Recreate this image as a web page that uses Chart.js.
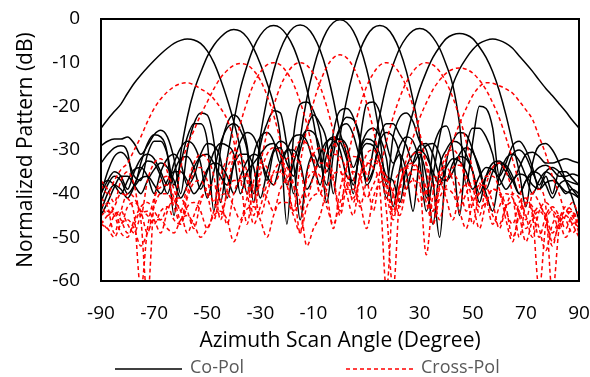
<!DOCTYPE html>
<html lang="en">
<head>
<meta charset="UTF-8" />
<title>Azimuth Scan Pattern</title>
<script src="https://cdn.jsdelivr.net/npm/chart.js"></script>
<style>
  html, body { margin: 0; padding: 0; background: #fff; }
  .container { width: 590px; height: 377px; }
</style>
</head>
<body>
<div class="container"><canvas id="myChart" width="590" height="377"></canvas></div>
<script>
// scan angle grid (deg), shared by every curve
var angles = [-90, -87.5, -85, -82.5, -80, -77.5, -75, -72.5, -70, -67.5,
  -65, -62.5, -60, -57.5, -55, -52.5, -50, -47.5, -45, -42.5,
  -40, -37.5, -35, -32.5, -30, -27.5, -25, -22.5, -20, -17.5,
  -15, -12.5, -10, -7.5, -5, -2.5, 0, 2.5, 5, 7.5,
  10, 12.5, 15, 17.5, 20, 22.5, 25, 27.5, 30, 32.5,
  35, 37.5, 40, 42.5, 45, 47.5, 50, 52.5, 55, 57.5,
  60, 62.5, 65, 67.5, 70, 72.5, 75, 77.5, 80, 82.5,
  85, 87.5, 90];

var xTickValues = [-90, -70, -50, -30, -10, 10, 30, 50, 70, 90];
var yTickValues = [0, -10, -20, -30, -40, -50, -60];
var legendLabels = ["Co-Pol", "Cross-Pol"];

// co-pol beams (dB)
var coBeam1 = [-25.0, -23.0, -21.2, -19.5, -17.0, -14.7, -12.8, -11.1, -9.5, -8.0,
  -6.7, -5.6, -4.9, -4.6, -4.8, -5.6, -7.3, -10.0, -13.8, -18.3,
  -23.5, -30, -40, -31, -27, -26, -28, -33, -30, -27,
  -26.5, -28, -33, -38, -31, -28, -27.5, -29, -34, -30,
  -27.5, -28, -31, -36, -37, -42, -34, -31, -30, -31.5,
  -35, -38, -34, -32, -32.5, -35, -39, -36, -34, -34.5,
  -36.5, -39, -37, -35.5, -36, -38, -39, -37.5, -37, -38,
  -39.5, -40, -41];
var coBeam2 = [-33, -31, -29.5, -29, -30.5, -38, -33, -28.5, -26.5, -27,
  -31, -45, -31, -22.5, -16.5, -12.3, -8.6, -6.0, -4.2, -2.9,
  -2.4, -2.8, -4.2, -6.8, -10.3, -14.6, -19.5, -27, -47, -27,
  -19.5, -19, -21, -26, -35, -29, -25, -24, -26.5, -32,
  -37, -34.5, -28, -26, -27, -31, -39, -33, -29, -28.5,
  -31, -36, -37, -33, -31.5, -32, -35, -40, -36, -34,
  -33, -35, -37, -34, -31, -30.5, -31.5, -33, -33, -32.5,
  -32, -32.5, -33];
var coBeam3 = [-29, -28, -27.5, -27.5, -27, -28.5, -31, -29, -26.5, -25.5,
  -27, -32, -40, -30, -24, -21.5, -22, -28, -42, -32,
  -23.5, -16, -10.7, -6.5, -3.7, -2.0, -1.5, -2.0, -3.7, -6.5,
  -10.7, -16, -23.5, -32, -38, -26, -21, -20.5, -22.5, -28,
  -38, -35, -27, -24, -24, -26.5, -29, -33, -31, -36,
  -47, -34, -30, -28, -28.5, -31, -35, -42, -36, -33,
  -32.5, -34, -37, -40, -37, -35.5, -34, -33.5, -34.5, -36,
  -36, -35.5, -36];
var coBeam4 = [-40, -35, -31.5, -30.5, -32, -36, -37, -31, -28, -28,
  -31, -38, -33, -27, -24, -24, -28, -44, -30, -24,
  -22, -23.5, -29, -40, -27, -18.4, -11.9, -7.1, -3.85, -1.95,
  -1.4, -1.95, -3.85, -7.1, -11.9, -18.4, -26, -31, -40, -28,
  -19.5, -19, -21.5, -28.5, -33, -31, -35, -44, -32, -29,
  -28.5, -31, -37, -35, -31, -29.5, -30.5, -34, -39, -35,
  -33, -33.5, -36, -40, -37, -35, -35.5, -38, -41, -38,
  -37, -37.5, -38];
var coBeam5 = [-40, -37, -35, -36, -39, -35, -32, -31, -32, -35,
  -38, -33, -29.5, -28, -29, -33, -41, -35, -28.5, -25,
  -24, -25.5, -30, -42, -29, -24, -21, -21.5, -29, -40,
  -27.5, -18.2, -11.4, -6.3, -2.8, -0.8, -0.2, -0.8, -2.8, -6.3,
  -11.4, -18.2, -27, -38, -27, -22.5, -21.5, -23.5, -28, -30,
  -37, -50, -33, -28, -26, -26.5, -30, -35, -40, -44,
  -36, -32, -31, -32.5, -36, -40, -37, -35, -36, -38,
  -40, -39, -40];
var coBeam6 = [-38, -37, -38, -40, -37, -34.5, -34, -36, -40, -35,
  -32, -31, -33, -38, -36, -31, -28.5, -29, -32, -41,
  -33, -28, -26, -27, -31, -37, -30.5, -29.5, -33, -36,
  -30, -25, -22, -24, -28, -40, -27, -18.5, -12, -7.2,
  -3.95, -2.05, -1.5, -2.05, -3.95, -7.2, -12, -18.5, -27, -41,
  -30, -25.5, -24.5, -30, -45, -30, -25, -25, -27, -31,
  -38, -35, -31, -30, -31.5, -35, -38, -35, -34, -35,
  -37, -39, -41];
var coBeam7 = [-42, -38, -36, -37, -40, -38, -34.5, -32.5, -33, -36,
  -40, -35, -32, -31.5, -34, -39, -35, -30.5, -28.5, -29,
  -31, -40, -35, -33, -31, -29, -28.5, -31, -38, -33,
  -28, -25.5, -26, -30, -42, -31, -25, -22.5, -23, -27,
  -37, -30, -22, -15.2, -10.5, -6.7, -4.2, -2.65, -2.2, -2.65,
  -4.2, -6.7, -10.5, -15.2, -24, -38, -28, -20, -20.5, -25,
  -36, -33, -29, -28, -30, -34, -39, -36, -40, -35,
  -35, -36.5, -38];
var coBeam8 = [-45, -42, -38.5, -36, -36, -38, -40, -37, -34.5, -33,
  -34, -37, -41, -38, -34, -31.5, -31, -33, -36, -38,
  -33.5, -31, -31, -34, -41, -35, -30, -28, -29, -33,
  -46, -35, -31, -34, -28.5, -27, -28, -32, -38, -30,
  -26, -25, -27, -32, -43, -34.3, -27.3, -21.3, -16.1, -12.1,
  -8.8, -6.4, -4.5, -3.6, -3.3, -3.6, -4.5, -6.4, -8.8, -12.1,
  -16.5, -22, -28.5, -35, -43, -33, -29, -28.5, -30, -33,
  -37, -41, -46];
var coBeam9 = [-44, -40, -38, -39, -41, -38.5, -36.5, -36, -38, -40,
  -37, -35, -35, -37, -40, -38, -34.5, -33, -33.5, -36,
  -40, -36, -32.5, -31, -32, -36, -38, -33, -30, -30,
  -33, -39, -36, -31, -28, -27.5, -30, -36, -37, -31,
  -28.5, -29, -33, -41, -34, -29, -27, -28, -33, -44,
  -36, -27, -20.5, -15.0, -11.5, -9.0, -7.0, -5.6, -4.9, -4.6,
  -4.9, -5.6, -6.7, -8.5, -10.2, -12.0, -14.0, -15.9, -17.6, -19.4,
  -21.2, -23.2, -25.0];

// cross-pol beams (dB)
var xBeam1 = [-38, -40, -37, -34.5, -33, -30, -27, -23.5, -20.5, -18.3,
  -16.7, -15.5, -14.8, -14.6, -15.1, -16, -16.9, -18.3, -20.4, -23,
  -28, -36, -47, -37, -33, -34, -38, -35, -32, -31.5,
  -34, -41, -36, -33, -33.5, -37, -45, -38, -35, -36,
  -41, -38, -35, -36, -40, -45, -39, -37, -38, -42,
  -47, -41, -39, -40, -44, -48, -42, -40, -41, -45,
  -47, -43, -42, -44, -48, -45, -43, -45, -49, -46,
  -44, -46, -48];
var xBeam2 = [-37, -39, -42, -37, -35, -38, -45, -37, -33, -32,
  -35, -42, -34, -29, -25.5, -22, -19, -16, -13.5, -11.8,
  -10.6, -10.2, -10.5, -11.8, -14, -17.5, -22, -28, -37, -31,
  -28, -28.5, -32, -40, -34, -31, -31.5, -35, -42, -36,
  -33, -34, -39, -62, -40, -35, -34, -36.5, -42, -39,
  -36, -37, -41, -46, -40, -38, -39, -43, -42, -39,
  -40, -44, -47, -42, -41, -44, -50, -45, -43, -45,
  -48, -45, -46];
var xBeam3 = [-42, -45, -43, -40, -41, -45, -62, -48, -41, -37,
  -36, -39, -44, -38, -33, -31, -32, -36, -46, -39,
  -31, -24, -19, -14.9, -12.2, -10.5, -10, -10.5, -12.2, -14.9,
  -19, -24, -31, -40, -33, -29, -28, -30, -36, -43,
  -37, -33, -33.5, -37, -44, -38, -34, -33, -35, -40,
  -44, -39, -36, -35.5, -38, -44, -41, -38, -38.5, -42,
  -48, -43, -40, -41, -45, -50, -44, -42, -44, -48,
  -45, -44, -47];
var xBeam4 = [-41, -43, -49, -44, -40, -41, -46, -64, -42, -38.5,
  -38, -41, -46, -40, -35, -34, -37, -42, -36, -32,
  -30, -31, -35, -42, -33.5, -26, -20, -15.5, -12.5, -10.6,
  -10, -10.6, -12.5, -15.5, -20, -26, -34, -40, -45, -36,
  -31, -30, -33, -40, -46, -38, -34, -33.5, -37, -54,
  -40, -35, -34, -37, -43, -40, -37, -37.5, -41, -47,
  -43, -40, -41, -45, -51, -46, -44, -46, -51, -47,
  -45, -47, -50];
var xBeam5 = [-43, -42, -44, -47, -43, -42, -44, -49, -43, -40,
  -40, -43, -47, -41, -37.5, -37, -40, -46, -39, -34,
  -32, -33, -37, -45, -36, -31, -29.5, -31, -36, -44,
  -33.2, -25.2, -19.2, -14.5, -11, -8.9, -8.2, -8.9, -11, -14.5,
  -19.2, -25.2, -33, -44, -62, -40, -34, -31, -30.5, -33,
  -39, -46, -38, -34, -33.5, -36, -42, -48, -42, -39,
  -39.5, -43, -50, -45, -42, -43, -48, -53, -47, -45,
  -46, -49, -47];
var xBeam6 = [-46, -48, -45, -44, -47, -49, -45, -44, -46, -49,
  -44, -41, -41, -44, -48, -42, -38.5, -38, -41, -47,
  -40, -36.5, -36, -39, -45, -40, -35, -33, -34, -38,
  -49, -36, -31, -29.5, -31, -36, -44, -33.5, -26, -20,
  -15.5, -12.5, -10.6, -10, -10.6, -12.5, -15.5, -20, -26, -33.5,
  -44, -36, -31, -30, -32, -38, -47, -39, -36, -36,
  -39, -46, -51, -44, -42, -45, -62, -47, -44, -46,
  -50, -47, -46];
var xBeam7 = [-45, -44, -45, -49, -50, -46, -43, -42, -44, -46,
  -43, -42, -44, -49, -45, -41, -40, -42, -45, -40,
  -37, -37, -40, -47, -43, -38, -35.5, -35, -38, -44,
  -42, -37, -35, -36, -40, -48, -39, -34, -31.5, -32,
  -36, -44, -35, -28, -22.5, -18, -14.5, -12, -10.5, -10,
  -10.5, -12, -14.5, -18, -22.5, -28, -35, -45, -38, -34,
  -33, -35, -40, -50, -42, -40, -42, -46, -52, -46,
  -43, -44, -48];
var xBeam8 = [-47, -45, -44, -46, -49, -47, -44, -45, -47, -44,
  -43, -46, -47, -43, -42, -44, -48, -44, -40.5, -40,
  -43, -46, -41, -38, -38, -41, -44, -39, -37, -38,
  -42, -52, -48, -45, -39, -35.5, -35, -38, -41, -37,
  -33.5, -32, -33.5, -38, -45, -38, -32.2, -27.2, -22.7, -19.2,
  -16.2, -14, -12.4, -11.5, -11.2, -11.5, -12.4, -14, -16.2, -19.2,
  -22.7, -27.2, -32.2, -38, -46, -40, -39, -43, -63, -48,
  -44, -45, -49];
var xBeam9 = [-47, -48, -50, -47, -46, -48, -52, -49, -46, -46,
  -48, -49, -46, -45, -47, -50, -48, -45, -44, -46,
  -51, -47, -43.5, -43, -46, -50, -45, -42, -42, -45,
  -49, -43, -40.5, -40, -43, -47, -42, -39, -39, -42,
  -48, -41, -37.5, -37, -40, -43, -37, -34.5, -35, -39,
  -47, -38, -32, -28, -24, -20.5, -17.5, -15.5, -14.6, -14.7,
  -15.3, -16, -17, -18.8, -20.8, -23, -27, -31, -36, -40,
  -44, -42, -45];

var coPolSeries = [coBeam1, coBeam2, coBeam3, coBeam4, coBeam5, coBeam6, coBeam7, coBeam8, coBeam9];
var crossPolSeries = [xBeam1, xBeam2, xBeam3, xBeam4, xBeam5, xBeam6, xBeam7, xBeam8, xBeam9];

function toPoints(values) {
  return values.map(function(v, i) { return { x: angles[i], y: v }; });
}

var datasets = [];
coPolSeries.forEach(function(s, k) {
  datasets.push({
    label: "Co-Pol " + (k + 1),
    data: toPoints(s),
    borderColor: "#000000",
    borderWidth: 1.5,
    pointRadius: 0,
    cubicInterpolationMode: "monotone",
    order: 1
  });
});
crossPolSeries.forEach(function(s, k) {
  datasets.push({
    label: "Cross-Pol " + (k + 1),
    data: toPoints(s),
    borderColor: "#ff0000",
    borderWidth: 1.5,
    borderDash: [4, 3],
    pointRadius: 0,
    cubicInterpolationMode: "monotone",
    order: 0
  });
});

// box around the plot area and the two-entry legend under the axis title
var framePlugin = {
  id: "frame",
  afterDatasetsDraw: function(chart) {
    var a = chart.chartArea, ctx = chart.ctx;
    ctx.save();
    ctx.strokeStyle = "#000";
    ctx.lineWidth = 2;
    ctx.strokeRect(a.left, a.top, a.right - a.left, a.bottom - a.top);
    ctx.restore();
  },
  afterDraw: function(chart) {
    var ctx = chart.ctx;
    ctx.save();
    ctx.lineWidth = 1.5;
    ctx.strokeStyle = "#000";
    ctx.beginPath(); ctx.moveTo(115, 369); ctx.lineTo(182, 369); ctx.stroke();
    ctx.strokeStyle = "#ff0000";
    ctx.setLineDash([4, 3]);
    ctx.beginPath(); ctx.moveTo(346, 369); ctx.lineTo(414, 369); ctx.stroke();
    ctx.setLineDash([]);
    ctx.fillStyle = "#595959";
    ctx.font = '18px "Open Sans"';
    ctx.textBaseline = "middle";
    ctx.fillText(legendLabels[0], 190, 368);
    ctx.fillText(legendLabels[1], 421, 368);
    ctx.restore();
  }
};

Chart.defaults.font.family = '"Open Sans", sans-serif';
Chart.defaults.color = "#000";

new Chart(document.getElementById("myChart").getContext("2d"), {
  type: "line",
  data: { datasets: datasets },
  options: {
    responsive: false,
    animation: false,
    devicePixelRatio: 1,
    layout: { autoPadding: false, padding: { top: 19, right: 11, bottom: 19, left: 0 } },
    plugins: { legend: { display: false }, tooltip: { enabled: false } },
    scales: {
      x: {
        type: "linear",
        min: -90,
        max: 90,
        // tick length (not drawn) is used as the gap between axis and labels
        grid: { display: false, drawTicks: true, tickLength: 21 },
        border: { display: false },
        afterBuildTicks: function(s) { s.ticks = xTickValues.map(function(v) { return { value: v }; }); },
        afterFit: function(s) { s.height = 77; },
        ticks: { font: { size: 19 }, padding: 0, maxRotation: 0 },
        title: { display: true, text: "Azimuth Scan Angle (Degree)", font: { size: 21 }, padding: { top: 0, bottom: 4 } }
      },
      y: {
        min: -60,
        max: 0,
        grid: { display: false, drawTicks: true, tickLength: 21 },
        border: { display: false },
        afterBuildTicks: function(s) { s.ticks = yTickValues.map(function(v) { return { value: v }; }); },
        afterFit: function(s) { s.width = 101; },
        ticks: { font: { size: 19 }, padding: 0 },
        title: { display: true, text: "Normalized Pattern (dB)", font: { size: 21 }, padding: { top: 13, bottom: 0 } }
      }
    }
  },
  plugins: [framePlugin]
});
</script>
</body>
</html>
